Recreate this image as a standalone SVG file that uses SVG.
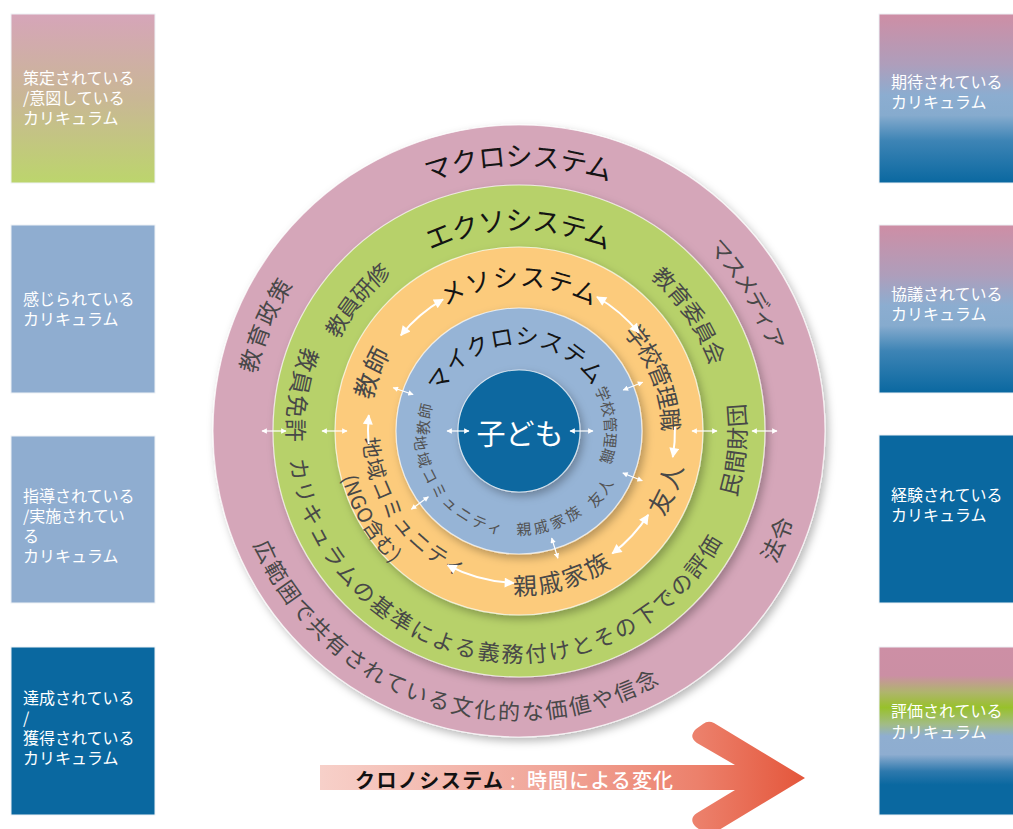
<svg xmlns="http://www.w3.org/2000/svg" width="1013" height="829" viewBox="0 0 1013 829">
<defs>
<style>
.jp{font-family:'Noto Sans CJK JP','Noto Sans',sans-serif;}
.bt{fill:#fff;font-size:16px;}
.title{fill:#141414;}
.lbl{fill:#484848;}
.lbl2{fill:#525252;}
.ring{stroke:#ffffff;stroke-opacity:0.7;stroke-width:1.2;filter:url(#sh);}
.big{stroke:#fff;stroke-width:2;fill:none;}
.small{stroke:#fff;stroke-width:1.2;fill:none;}
</style>
<filter id="sh" x="-15%" y="-15%" width="135%" height="135%">
<feDropShadow dx="3" dy="4" stdDeviation="4" flood-color="#000" flood-opacity="0.28"/>
</filter>
<linearGradient id="gL1" x1="0" y1="0" x2="0" y2="1">
<stop offset="0" stop-color="#D6A5B9"/><stop offset="0.5" stop-color="#C9B795"/><stop offset="1" stop-color="#BCD56C"/>
</linearGradient>
<linearGradient id="gR1" x1="0" y1="0" x2="0" y2="1">
<stop offset="0" stop-color="#CE8EA5"/><stop offset="0.3" stop-color="#AE9EBB"/><stop offset="0.48" stop-color="#8CADD0"/><stop offset="0.6" stop-color="#86ABCE"/><stop offset="0.75" stop-color="#3D84B5"/><stop offset="1" stop-color="#0A68A0"/>
</linearGradient>
<linearGradient id="gR4" x1="0" y1="0" x2="0" y2="1">
<stop offset="0" stop-color="#CD8FA5"/><stop offset="0.17" stop-color="#CB8FA4"/><stop offset="0.27" stop-color="#AFB56C"/><stop offset="0.36" stop-color="#98C12B"/><stop offset="0.46" stop-color="#A2BC86"/><stop offset="0.53" stop-color="#8FAED0"/><stop offset="0.64" stop-color="#8EADD0"/><stop offset="0.74" stop-color="#2E79AD"/><stop offset="0.82" stop-color="#0A68A0"/><stop offset="1" stop-color="#0A68A0"/>
</linearGradient>
<linearGradient id="gArrow" gradientUnits="userSpaceOnUse" x1="320" y1="0" x2="805" y2="0">
<stop offset="0" stop-color="#F7D0C9"/><stop offset="0.5" stop-color="#F0A396"/><stop offset="0.78" stop-color="#EC806B"/><stop offset="1" stop-color="#E4563B"/>
</linearGradient>
<marker id="ah" viewBox="0 0 10 10" refX="9" refY="5" markerWidth="5.5" markerHeight="5" orient="auto-start-reverse" markerUnits="strokeWidth">
<path d="M0,0 L10,5 L0,10 z" fill="#fff"/>
</marker>
<marker id="ahs" viewBox="0 0 10 10" refX="9" refY="5" markerWidth="5" markerHeight="4.5" orient="auto-start-reverse" markerUnits="strokeWidth">
<path d="M0,0 L10,5 L0,10 z" fill="#fff"/>
</marker>
<path id="p1" d="M340.9,218.8 A277,277 0 0 1 697.1,218.8"/>
<path id="p2" d="M252.5,513.5 A279,279 0 0 1 391.5,182.9"/>
<path id="p3" d="M607.9,172.9 A273,273 0 0 1 788.6,473.7"/>
<path id="p4" d="M646.5,679.1 A279,279 0 0 0 785.5,348.5"/>
<path id="p5" d="M241.7,461.6 A279,279 0 0 0 720.7,623.8"/>
<path id="p6" d="M368.4,280.4 A213,213 0 0 1 669.6,280.4"/>
<path id="p7" d="M307,434.7 A212,212 0 0 1 478.5,222.9"/>
<path id="p8" d="M577.4,227.2 A212,212 0 0 1 729.8,453.2"/>
<path id="p9" d="M672.4,584.4 A217,217 0 0 0 696.8,306.5"/>
<path id="p10" d="M374.2,262.7 A222,222 0 0 0 328.1,544.3"/>
<path id="p11" d="M299,409.8 A221,221 0 0 0 732,490.1"/>
<path id="p12" d="M400.4,329.7 A156,156 0 0 1 639.4,331.8"/>
<path id="p13" d="M359.6,453.4 A161,161 0 0 1 419.9,304.1"/>
<path id="p14" d="M592,296.5 A153,153 0 0 1 664.1,479.5"/>
<path id="p15" d="M617.2,553.5 A157,157 0 0 0 674.2,407.2"/>
<path id="p16" d="M457.5,571.1 A153,153 0 0 0 646.3,515.9"/>
<path id="p17" d="M376.6,394.4 A147,147 0 0 0 507.7,577.6"/>
<path id="p18" d="M347.4,402.3 A174,174 0 0 0 460.9,595"/>
<path id="p19" d="M423.1,426 A96,96 0 0 1 614.3,419.3"/>
<path id="p20" d="M432.8,475.5 A97,97 0 0 1 447.7,365.2"/>
<path id="p21" d="M425.8,400.7 A98,98 0 0 0 539.4,526.9"/>
<path id="p22" d="M483.6,521.3 A97,97 0 0 0 601.8,481.5"/>
<path id="p23" d="M558.5,524 A101,101 0 0 0 619.2,443.3"/>
<path id="p24" d="M580.4,361.1 A93,93 0 0 1 588.9,492.4"/>
</defs>

<rect width="1013" height="829" fill="#fff"/>

<!-- left boxes -->
<g id="box-intended" class="jp">
<rect x="11" y="14" width="144" height="169" fill="url(#gL1)" stroke="#eef2f6" stroke-width="1"/>
<text class="bt" x="23" y="77" dominant-baseline="central">策定されている</text>
<text class="bt" x="23" y="97" dominant-baseline="central">/意図している</text>
<text class="bt" x="23" y="117" dominant-baseline="central">カリキュラム</text>
</g>
<g id="box-perceived" class="jp">
<rect x="11" y="225" width="144" height="168" fill="#8FADD0" stroke="#eef2f6" stroke-width="1"/>
<text class="bt" x="23" y="298" dominant-baseline="central">感じられている</text>
<text class="bt" x="23" y="318" dominant-baseline="central">カリキュラム</text>
</g>
<g id="box-implemented" class="jp">
<rect x="11" y="436" width="144" height="167" fill="#8FADD0" stroke="#eef2f6" stroke-width="1"/>
<text class="bt" x="23" y="495" dominant-baseline="central">指導されている</text>
<text class="bt" x="23" y="515" dominant-baseline="central">/実施されてい</text>
<text class="bt" x="23" y="535" dominant-baseline="central">る</text>
<text class="bt" x="23" y="555" dominant-baseline="central">カリキュラム</text>
</g>
<g id="box-achieved" class="jp">
<rect x="11" y="647" width="144" height="168" fill="#0A68A0" stroke="#eef2f6" stroke-width="1"/>
<text class="bt" x="23" y="697" dominant-baseline="central">達成されている</text>
<text class="bt" x="23" y="717" dominant-baseline="central">/</text>
<text class="bt" x="23" y="737" dominant-baseline="central">獲得されている</text>
<text class="bt" x="23" y="757" dominant-baseline="central">カリキュラム</text>
</g>

<!-- right boxes -->
<g id="box-expected" class="jp">
<rect x="879" y="14" width="140" height="169" fill="url(#gR1)" stroke="#eef2f6" stroke-width="1"/>
<text class="bt" x="891" y="81" dominant-baseline="central">期待されている</text>
<text class="bt" x="891" y="101" dominant-baseline="central">カリキュラム</text>
</g>
<g id="box-negotiated" class="jp">
<rect x="879" y="225" width="140" height="168" fill="url(#gR1)" stroke="#eef2f6" stroke-width="1"/>
<text class="bt" x="891" y="293" dominant-baseline="central">協議されている</text>
<text class="bt" x="891" y="313" dominant-baseline="central">カリキュラム</text>
</g>
<g id="box-experienced" class="jp">
<rect x="879" y="435" width="140" height="168" fill="#0A68A0" stroke="#eef2f6" stroke-width="1"/>
<text class="bt" x="891" y="494" dominant-baseline="central">経験されている</text>
<text class="bt" x="891" y="514" dominant-baseline="central">カリキュラム</text>
</g>
<g id="box-assessed" class="jp">
<rect x="879" y="647" width="140" height="168" fill="url(#gR4)" stroke="#eef2f6" stroke-width="1"/>
<text class="bt" x="891" y="710" dominant-baseline="central">評価されている</text>
<text class="bt" x="891" y="731" dominant-baseline="central">カリキュラム</text>
</g>

<!-- chronosystem arrow -->
<g id="chronosystem" class="jp">
<path d="M320,765 L735,765 L697,743 Q688,737 696,729 L703,724 Q708,720 714,723 L805,778 L714,833 Q708,836 703,832 L696,827 Q688,819 697,813 L735,790 L320,790 Z" fill="url(#gArrow)"/>
<text x="355" y="779" font-size="20" font-weight="700" fill="#111" dominant-baseline="central" textLength="148" lengthAdjust="spacing">クロノシステム</text>
<text x="510" y="779" font-size="20" fill="#fff" dominant-baseline="central">:</text>
<text x="527" y="779" font-size="20" font-weight="500" fill="#fff" dominant-baseline="central" textLength="146" lengthAdjust="spacing">時間による変化</text>
</g>

<!-- macrosystem -->
<g id="macrosystem" class="jp">
<circle cx="519" cy="431" r="306" fill="#D5A6B9" class="ring"/>
<text class="title" font-size="27" letter-spacing="0.6" text-anchor="middle" dominant-baseline="central"><textPath href="#p1" startOffset="50%">マクロシステム</textPath></text>
<text class="lbl" font-size="23" letter-spacing="2.5" text-anchor="middle" dominant-baseline="central"><textPath href="#p2" startOffset="50%">教育政策</textPath></text>
<text class="lbl" font-size="22" letter-spacing="-1" text-anchor="middle" dominant-baseline="central"><textPath href="#p3" startOffset="50%">マスメディア</textPath></text>
<text class="lbl" font-size="23" text-anchor="middle" dominant-baseline="central"><textPath href="#p4" startOffset="50%">法令</textPath></text>
<text class="lbl" font-size="22" letter-spacing="1.5" text-anchor="middle" dominant-baseline="central"><textPath href="#p5" startOffset="50%">広範囲で共有されている文化的な価値や信念</textPath></text>
</g>

<!-- exosystem -->
<g id="exosystem" class="jp">
<circle cx="519" cy="431" r="246" fill="#B7D16A" class="ring"/>
<text class="title" font-size="27" letter-spacing="0.6" text-anchor="middle" dominant-baseline="central"><textPath href="#p6" startOffset="50%">エクソシステム</textPath></text>
<text class="lbl" font-size="22" text-anchor="middle" dominant-baseline="central"><textPath href="#p7" startOffset="50%">教員研修</textPath></text>
<text class="lbl" font-size="22" letter-spacing="0.6" text-anchor="middle" dominant-baseline="central"><textPath href="#p8" startOffset="50%">教育委員会</textPath></text>
<text class="lbl" font-size="23" text-anchor="middle" dominant-baseline="central"><textPath href="#p9" startOffset="50%">民間財団</textPath></text>
<text class="lbl" font-size="23" letter-spacing="0.7" text-anchor="middle" dominant-baseline="central"><textPath href="#p10" startOffset="50%">教員免許</textPath></text>
<text class="lbl" font-size="22" letter-spacing="1.4" text-anchor="middle" dominant-baseline="central"><textPath href="#p11" startOffset="50%">カリキュラムの基準による義務付けとその下での評価</textPath></text>
</g>

<!-- mesosystem -->
<g id="mesosystem" class="jp">
<circle cx="519" cy="431" r="184" fill="#FCCB7C" class="ring"/>
<text class="title" font-size="25" letter-spacing="3" text-anchor="middle" dominant-baseline="central"><textPath href="#p12" startOffset="50%">メソシステム</textPath></text>
<text class="lbl" font-size="25" letter-spacing="3" text-anchor="middle" dominant-baseline="central"><textPath href="#p13" startOffset="50%">教師</textPath></text>
<text class="lbl" font-size="23" text-anchor="middle" dominant-baseline="central"><textPath href="#p14" startOffset="50%">学校管理職</textPath></text>
<text class="lbl" font-size="25" letter-spacing="2" text-anchor="middle" dominant-baseline="central"><textPath href="#p15" startOffset="50%">友人</textPath></text>
<text class="lbl" font-size="24" letter-spacing="0.7" text-anchor="middle" dominant-baseline="central"><textPath href="#p16" startOffset="50%">親戚家族</textPath></text>
<text class="lbl" font-size="21" letter-spacing="0.5" text-anchor="middle" dominant-baseline="central"><textPath href="#p17" startOffset="50%">地域コミュニティ</textPath></text>
<text class="lbl" font-size="20" text-anchor="middle" dominant-baseline="central"><textPath href="#p18" startOffset="50%">(NGO含む)</textPath></text>
</g>

<!-- microsystem -->
<g id="microsystem" class="jp">
<circle cx="519" cy="431" r="123" fill="#96B4D6" class="ring"/>
<text class="title" font-size="23" letter-spacing="3" text-anchor="middle" dominant-baseline="central"><textPath href="#p19" startOffset="50%">マイクロシステム</textPath></text>
<text class="lbl2" font-size="15" letter-spacing="2" text-anchor="middle" dominant-baseline="central"><textPath href="#p20" startOffset="50%">教師</textPath></text>
<text class="lbl2" font-size="15" letter-spacing="2" text-anchor="middle" dominant-baseline="central"><textPath href="#p21" startOffset="50%">地域コミュニティ</textPath></text>
<text class="lbl2" font-size="15" letter-spacing="2" text-anchor="middle" dominant-baseline="central"><textPath href="#p22" startOffset="50%">親戚家族</textPath></text>
<text class="lbl2" font-size="15" letter-spacing="1" text-anchor="middle" dominant-baseline="central"><textPath href="#p23" startOffset="50%">友人</textPath></text>
<text class="lbl2" font-size="15" letter-spacing="1" text-anchor="middle" dominant-baseline="central"><textPath href="#p24" startOffset="50%">学校管理職</textPath></text>
</g>

<!-- child -->
<g id="child" class="jp">
<circle cx="519" cy="431" r="61" fill="#0A67A0" class="ring"/>
<text x="520" y="432" font-size="29" fill="#fff" text-anchor="middle" dominant-baseline="central">子ども</text>
</g>

<!-- connectors -->
<g id="connectors">
<path class="big" d="M400.9,335.3 A152,152 0 0 1 443,299.4" marker-start="url(#ah)" marker-end="url(#ah)"/>
<path class="big" d="M597,297 A155,155 0 0 1 638.9,332.8" marker-start="url(#ah)" marker-end="url(#ah)"/>
<path class="big" d="M674.9,426.9 A156,156 0 0 1 672.8,457" marker-end="url(#ah)"/>
<path class="big" d="M648.2,514.9 A154,154 0 0 1 612.3,553.5" marker-start="url(#ah)" marker-end="url(#ah)"/>
<path class="big" d="M513.7,582.9 A152,152 0 0 1 447.6,565.2" marker-start="url(#ah)" marker-end="url(#ah)"/>
<path class="big" d="M368.6,444.2 A151,151 0 0 1 368.8,415.2" marker-end="url(#ah)"/>
<path class="small" d="M447,431 L469,431" marker-start="url(#ahs)" marker-end="url(#ahs)"/>
<path class="small" d="M570,431 L593,431" marker-start="url(#ahs)" marker-end="url(#ahs)"/>
<path class="small" d="M413.1,394.5 L393.2,387.7" marker-start="url(#ahs)" marker-end="url(#ahs)"/>
<path class="small" d="M623.2,390 L642.7,382.3" marker-start="url(#ahs)" marker-end="url(#ahs)"/>
<path class="small" d="M622.8,473 L642.3,480.8" marker-start="url(#ahs)" marker-end="url(#ahs)"/>
<path class="small" d="M428.4,496.8 L411.4,509.2" marker-start="url(#ahs)" marker-end="url(#ahs)"/>
<path class="small" d="M551.7,538.1 L557.9,558.2" marker-start="url(#ahs)" marker-end="url(#ahs)"/>
<path class="small" d="M322,431 L347,431" marker-start="url(#ahs)" marker-end="url(#ahs)"/>
<path class="small" d="M692,431 L717,431" marker-start="url(#ahs)" marker-end="url(#ahs)"/>
<path class="small" d="M262,431 L286,431" marker-start="url(#ahs)" marker-end="url(#ahs)"/>
<path class="small" d="M752,431 L777,431" marker-start="url(#ahs)" marker-end="url(#ahs)"/>
</g>
</svg>
